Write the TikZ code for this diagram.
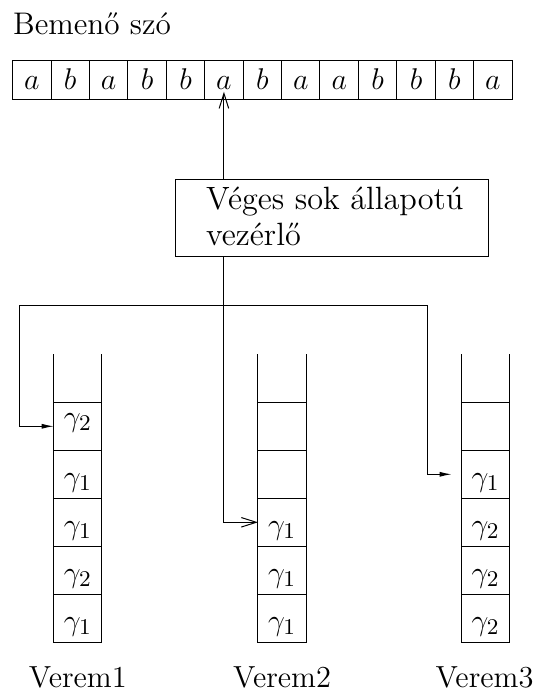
\documentclass[tikz,border=0pt]{standalone}
\usepackage{fontspec}
\usepackage{tikz}
\usetikzlibrary{arrows.meta, positioning}
\tikzset{
    cell/.style={rectangle, draw, outer sep=0pt, inner sep=0pt, minimum width=15.37pt, minimum height=15.6pt, text height=7.2pt, text depth=0pt},
    slot/.style={rectangle, draw, outer sep=0pt, inner sep=0pt, minimum width=19.3pt, minimum height=19.2pt, text height=9.6pt, text depth=0pt},
    control/.style={rectangle, draw, outer sep=0pt, minimum width=125pt, minimum height=31pt},
    openarrow/.style={-{Straight Barb[length=6pt,width=3.8pt]}},
    fillarrow/.style={-{Latex[length=4.8pt,width=2pt]}}
}

\begin{document}
\begin{tikzpicture}[x=0.4pt, y=0.4pt, every node/.style={font=\fontsize{12.2}{14.6}\selectfont}]
    \useasboundingbox (0,0) rectangle (533,691);
    \node (title) [anchor=base west, inner sep=0pt, font=\fontsize{12.5}{15}\selectfont] at (12.6,656.7) {Bemenő szó};

    % input tape
    \node (t1) [cell] at (31.8,610.5) {$a$};
    \node (t2) [cell, right=0pt of t1] {$b$};
    \node (t3) [cell, right=0pt of t2] {$a$};
    \node (t4) [cell, right=0pt of t3] {$b$};
    \node (t5) [cell, right=0pt of t4] {$b$};
    \node (t6) [cell, right=0pt of t5] {$a$};
    \node (t7) [cell, right=0pt of t6] {$b$};
    \node (t8) [cell, right=0pt of t7] {$a$};
    \node (t9) [cell, right=0pt of t8] {$a$};
    \node (t10) [cell, right=0pt of t9] {$b$};
    \node (t11) [cell, right=0pt of t10] {$b$};
    \node (t12) [cell, right=0pt of t11] {$b$};
    \node (t13) [cell, right=0pt of t12] {$a$};

    % finite control
    \node (ctrl) [control] at (331.95,472.75) {};
    \node (ctrltxt) [anchor=base west, align=left, inner sep=0pt, font=\fontsize{12.9}{14.6}\selectfont] at (205.6,445) {Véges sok állapotú\\vezérlő};

    % stack 1
    \node (v1a) [slot] at (77.85,72.7) {$\gamma_1$};
    \node (v1b) [slot, above=0pt of v1a] {$\gamma_2$};
    \node (v1c) [slot, above=0pt of v1b] {$\gamma_1$};
    \node (v1d) [slot, above=0pt of v1c] {$\gamma_1$};
    \node (v1e) [slot, above=0pt of v1d, text height=3pt, text depth=3pt] {$\gamma_2$};
    \draw (v1e.north west) -- ++(0,48);
    \draw (v1e.north east) -- ++(0,48);

    % stack 2
    \node (v2a) [slot] at (282.1,72.7) {$\gamma_1$};
    \node (v2b) [slot, above=0pt of v2a] {$\gamma_1$};
    \node (v2c) [slot, above=0pt of v2b] {$\gamma_1$};
    \node (v2d) [slot, above=0pt of v2c] {};
    \node (v2e) [slot, above=0pt of v2d] {};
    \draw (v2e.north west) -- ++(0,48);
    \draw (v2e.north east) -- ++(0,48);

    % stack 3
    \node (v3a) [slot] at (485.75,72.7) {$\gamma_2$};
    \node (v3b) [slot, above=0pt of v3a] {$\gamma_2$};
    \node (v3c) [slot, above=0pt of v3b] {$\gamma_2$};
    \node (v3d) [slot, above=0pt of v3c] {$\gamma_1$};
    \node (v3e) [slot, above=0pt of v3d] {};
    \draw (v3e.north west) -- ++(0,48);
    \draw (v3e.north east) -- ++(0,48);

    \node (lab1) [anchor=base, inner sep=0pt] at (77.85,3) {Verem1};
    \node (lab2) [anchor=base, inner sep=0pt] at (282.1,3) {Verem2};
    \node (lab3) [anchor=base, inner sep=0pt] at (484.5,3) {Verem3};

    % read head and stack heads
    \draw[openarrow] (ctrl.north -| t6) -- ([yshift=3.3pt]t6.south);
    \coordinate (fork) at (ctrl.south -| t6);
    \coordinate (forkl) at (19.7,385.3);
    \coordinate (forkr) at (427.6,385.3);
    \coordinate (v3tip) at ([xshift=-4pt]v3d.west);
    \draw[openarrow] (fork) |- (v2c.west);
    \draw[fillarrow] (fork |- forkl) -- (forkl) |- (v1e.west);
    \draw[fillarrow] (fork |- forkr) -- (forkr) |- (v3tip);
\end{tikzpicture}
\end{document}
